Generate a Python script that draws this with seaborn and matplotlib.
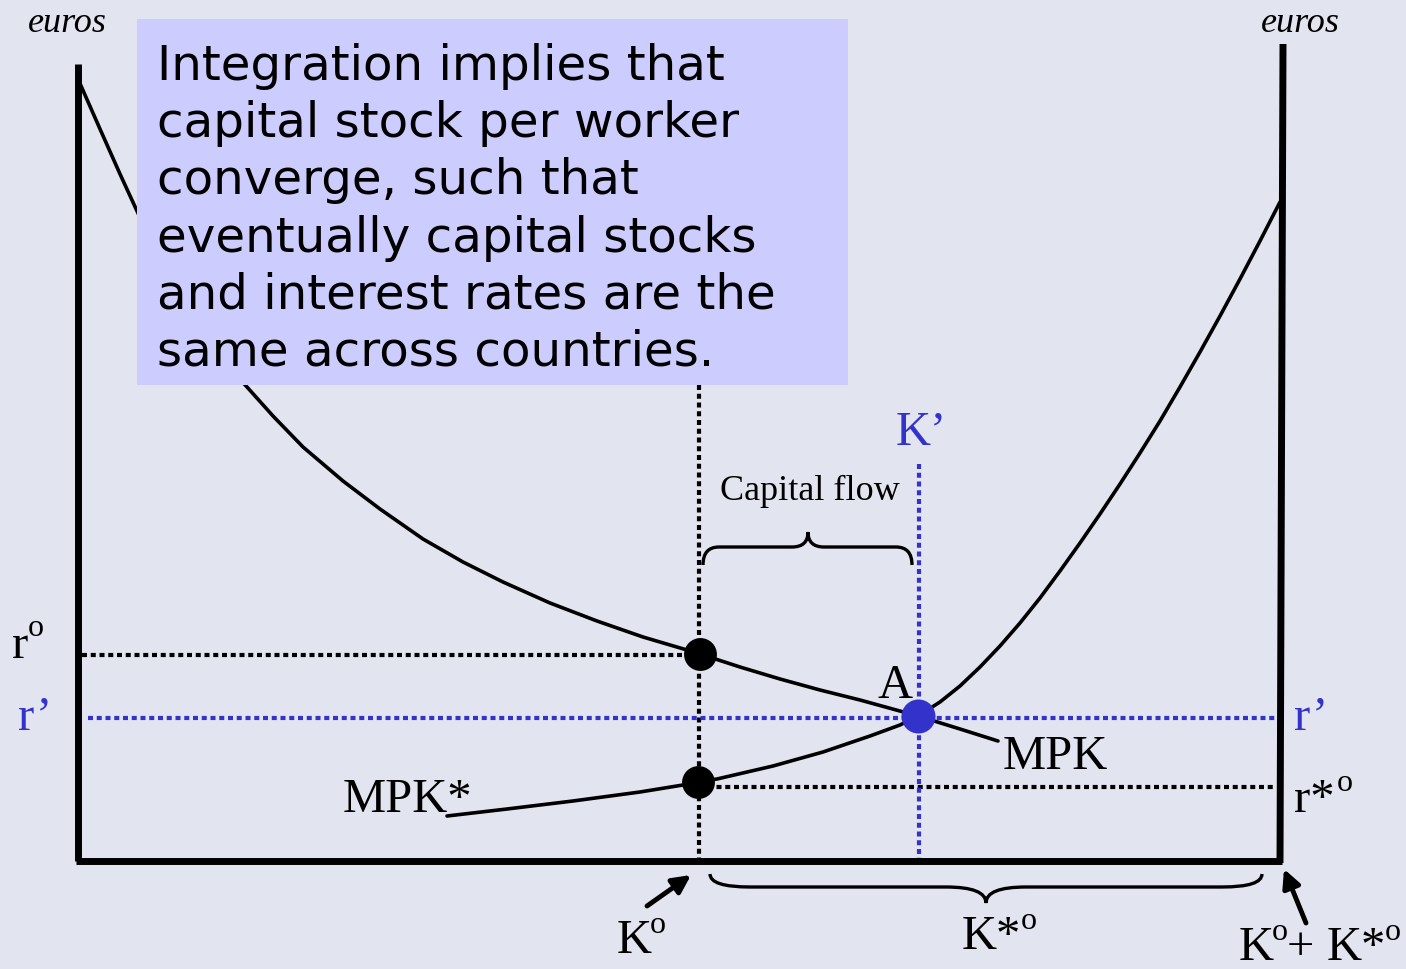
import numpy as np
import pandas as pd
import matplotlib
matplotlib.use("Agg")
import matplotlib.pyplot as plt
import seaborn as sns
from matplotlib.path import Path
from matplotlib.patches import PathPatch, Rectangle

# ---------------- data (diagram coordinates: x = capital, y = euros, drawn top-down) -------------
mpk_x = [78, 100, 120, 137, 160, 185, 210, 230, 247, 273, 303, 343, 380, 423, 463, 503, 550,
         597, 643, 687, 700, 740, 780, 820, 860, 918, 960, 998]
mpk_y = [80, 130, 175, 212, 261, 306, 344, 369, 388, 417, 448, 482, 510, 540, 563, 583, 604,
         622, 638, 651, 655, 668, 680, 691, 701, 717, 730, 742]
mpks_x = [447, 507, 573, 640, 683, 698, 717, 773, 823, 870, 900, 918, 940, 960, 980, 1000, 1020,
          1040, 1060, 1080, 1100, 1120, 1140, 1160, 1180, 1200, 1220, 1240, 1260, 1280]
mpks_y = [817, 810, 802, 793, 786, 783, 780, 767, 753, 737, 726, 717, 703, 687, 668, 647, 624,
          599, 572, 544, 515, 485, 454, 422, 388, 353, 317, 280, 242, 203]

K0, Kp = 699, 919          # K°, K'
r0, rp, rs0 = 656, 719, 788  # r°, r', r*°
origin_x, right_x, base_y = 78, 1280, 862
eq_black_x = [700, 698]
eq_black_y = [655, 783]
eq_blue_x = [918]
eq_blue_y = [717]

box_lines = ["Integration implies that",
             "capital stock per worker",
             "converge, such that",
             "eventually capital stocks",
             "and interest rates are the",
             "same across countries."]

BG = "#E2E4F0"
BLUE = "#3333CC"
SERIF = ["Liberation Serif", "DejaVu Serif"]

sns.set_theme(style="white")
plt.rcParams["font.family"] = ["DejaVu Sans"]

fig = plt.figure(figsize=(14.06, 9.70), dpi=100, facecolor=BG)
ax = fig.add_axes([0, 0, 1, 1])
ax.set_facecolor(BG)

dot = (0, (1.2, 0.9))

# axes of the diagram
ax.plot([origin_x, origin_x], [65, base_y], color="black", lw=5, solid_capstyle="butt", zorder=3)
ax.plot([origin_x - 2, right_x + 2], [base_y, base_y], color="black", lw=5, solid_capstyle="butt", zorder=3)
ax.plot([1283, right_x], [45, base_y + 2], color="black", lw=5, solid_capstyle="butt", zorder=3)

# dotted guide lines
ax.plot([82, K0], [r0, r0], color="black", lw=3, ls=dot, zorder=2)
ax.plot([K0, K0], [386, base_y], color="black", lw=3, ls=dot, zorder=2)
ax.plot([K0, 1275], [rs0, rs0], color="black", lw=3, ls=dot, zorder=2)
ax.plot([88, 1285], [rp, rp], color=BLUE, lw=3, ls=dot, zorder=2)
ax.plot([Kp, Kp], [465, base_y + 4], color=BLUE, lw=3, ls=dot, zorder=2)

# curves
curves = pd.concat([
    pd.DataFrame({"K": mpk_x, "euros": mpk_y, "curve": "MPK"}),
    pd.DataFrame({"K": mpks_x, "euros": mpks_y, "curve": "MPK*"}),
])
sns.lineplot(data=curves, x="K", y="euros", units="curve", estimator=None, sort=False,
             color="black", lw=2.6, ax=ax, zorder=4, legend=False, solid_joinstyle="round")

# equilibrium points
sns.scatterplot(x=eq_black_x, y=eq_black_y, color="black", s=560, ax=ax, zorder=6, linewidth=0, legend=False)
sns.scatterplot(x=eq_blue_x, y=eq_blue_y, color=BLUE, s=600, ax=ax, zorder=6, linewidth=0, legend=False)
ax.set_xlim(0, 1406)
ax.set_ylim(970, 0)
ax.axis("off")

# text box
ax.add_patch(Rectangle((137, 20), 848 - 137, 386 - 20, facecolor="#CCCCFF", edgecolor="none", zorder=5))
for i, line in enumerate(box_lines):
    ax.text(157, 80 + 57.2 * i, line, fontsize=34.8, family="DejaVu Sans", va="baseline", ha="left",
            color="black", zorder=7)


def brace(x1, x2, y_end, y_line, y_tip, xm=None, r=14):
    if xm is None:
        xm = (x1 + x2) / 2
    verts = [(x1, y_end), (x1, y_line), (x1 + r, y_line),
             (xm - r, y_line), (xm, y_line), (xm, y_tip),
             (xm, y_line), (xm + r, y_line),
             (x2 - r, y_line), (x2, y_line), (x2, y_end)]
    codes = [Path.MOVETO, Path.CURVE3, Path.CURVE3,
             Path.LINETO, Path.CURVE3, Path.CURVE3,
             Path.CURVE3, Path.CURVE3,
             Path.LINETO, Path.CURVE3, Path.CURVE3]
    ax.add_patch(PathPatch(Path(verts, codes), facecolor="none", edgecolor="black", lw=2.4, zorder=4))


brace(703, 912, 566, 548, 533, xm=808, r=16)
brace(710, 1262, 875, 888, 904, xm=986, r=40)

# arrows
ax.annotate("", xy=(691, 876), xytext=(647, 907),
            arrowprops=dict(arrowstyle="-|>,head_length=0.9,head_width=0.45", color="black", lw=3.5, shrinkA=0, shrinkB=0))
ax.annotate("", xy=(1284, 870), xytext=(1306, 924),
            arrowprops=dict(arrowstyle="-|>,head_length=0.9,head_width=0.45", color="black", lw=3.5, shrinkA=0, shrinkB=0))


def lbl(x, y, s, size=35, color="black", style="normal", ha="left"):
    ax.text(x, y, s, fontsize=size, family=SERIF, color=color, style=style, ha=ha, va="baseline", zorder=8)


lbl(67, 32, "euros", size=26, style="italic", ha="center")
lbl(1300, 32, "euros", size=26, style="italic", ha="center")

lbl(12, 658, "r")
lbl(28, 636, "o", size=23)
lbl(18, 730, "r\u2019", color=BLUE)
lbl(1294, 730, "r\u2019", color=BLUE)
lbl(1294, 812, "r*")
lbl(1337, 791, "o", size=23)

lbl(1003, 769, "MPK")
lbl(343, 812, "MPK*")
lbl(877, 698, "A")
lbl(896, 445, "K\u2019", color=BLUE)
lbl(810, 500, "Capital flow", size=26, ha="center")

lbl(617, 953, "K")
lbl(650, 933, "o", size=23)
lbl(962, 949, "K*")
lbl(1021, 929, "o", size=23)
lbl(1239, 960, "K")
lbl(1272, 940, "o", size=23)
lbl(1287, 960, "+")
lbl(1327, 960, "K*")
lbl(1385, 940, "o", size=23)

fig.savefig("out.png", dpi=100, facecolor=BG)
